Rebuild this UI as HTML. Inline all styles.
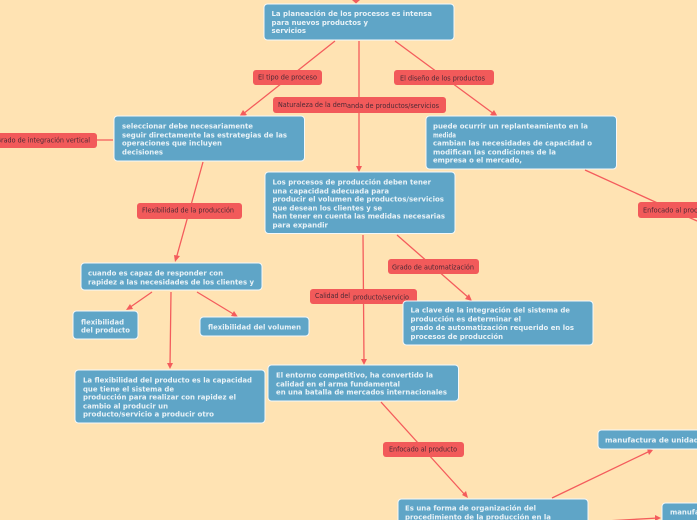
<!DOCTYPE html>
<html><head><meta charset="utf-8"><style>
html,body{margin:0;padding:0;width:697px;height:520px;overflow:hidden;background:#ffe3b3}
svg{display:block}
.n{fill:#5fa5c7;stroke:#f4f8fa;stroke-width:1}
.l{fill:#f25a5a}
.c{stroke:#f45c5c;stroke-width:1.3;fill:none}
.a{fill:#f45c5c}
.t{font:bold 7.2px "DejaVu Sans",sans-serif;fill:#e8f2f7;filter:blur(.25px)}
.s{font:7px "DejaVu Sans",sans-serif;fill:#4d2a35;filter:blur(.2px)}
</style></head><body>
<svg width="697" height="520" viewBox="0 0 697 520" xmlns="http://www.w3.org/2000/svg">
<rect width="697" height="520" fill="#ffe3b3"/>
<!-- connectors -->
<path class="c" d="M335 41L243 114M359 41V169M395 41L494 114M113 140H97M203 162L176 259M585 170L697 221M363 235L364 362M397 235L469 298M152 292L129 308M171 292L170 366M197 292L235 315M381 402L466 496M552 498L650 451M588 522L658 518"/>
<polygon class="a" points="352,0 360,0 356,3.500"/>
<polygon class="a" points="239,117 243,110 247,115"/>
<polygon class="a" points="359,172 356,166 362,166"/>
<polygon class="a" points="498,117 490,115 494,110"/>
<polygon class="a" points="175,262 174,255 180,256"/>
<polygon class="a" points="364,365 361,359 367,359"/>
<polygon class="a" points="472,301 465,299 469,294"/>
<polygon class="a" points="126,310 130,304 133,309"/>
<polygon class="a" points="170,369 167,363 173,363"/>
<polygon class="a" points="238,317 231,316 234,311"/>
<polygon class="a" points="468,498 462,495 466,491"/>
<polygon class="a" points="653,450 649,455 647,449"/>
<polygon class="a" points="661,518 655,521 655,515"/>
<!-- labels -->
<rect class="l" x="253" y="70" width="69" height="15" rx="3"/>
<rect class="l" x="394" y="70" width="100" height="15" rx="3"/>
<rect class="l" x="273" y="97" width="173" height="16" rx="3"/>
<rect class="l" x="-6" y="133" width="103" height="15" rx="3"/>
<rect class="l" x="137" y="203" width="105" height="16" rx="3"/>
<rect class="l" x="638" y="202" width="80" height="16" rx="3"/>
<rect class="l" x="388" y="259" width="91" height="15" rx="3"/>
<rect class="l" x="310" y="289" width="107" height="15" rx="3"/>
<rect class="l" x="383" y="442" width="81" height="15" rx="3"/>
<g class="s">
<text x="258" y="79.500" textLength="59" lengthAdjust="spacingAndGlyphs">El tipo de proceso</text>
<text x="400" y="80.500" textLength="85" lengthAdjust="spacingAndGlyphs">El diseño de los productos</text>
<text x="278" y="107" textLength="69" lengthAdjust="spacingAndGlyphs">Naturaleza de la dem</text>
<text x="347" y="108" textLength="92" lengthAdjust="spacingAndGlyphs">anda de productos/servicios</text>
<text x="-4" y="142.500" textLength="94" lengthAdjust="spacingAndGlyphs">Grado de integración vertical</text>
<text x="142" y="212.500" textLength="92" lengthAdjust="spacingAndGlyphs">Flexibilidad de la producción</text>
<text x="643" y="212.500" textLength="66" lengthAdjust="spacingAndGlyphs">Enfocado al proceso</text>
<text x="392" y="269.500" textLength="82" lengthAdjust="spacingAndGlyphs">Grado de automatización</text>
<text x="315" y="298" textLength="35" lengthAdjust="spacingAndGlyphs">Calidad del</text>
<text x="353" y="299.500" textLength="56" lengthAdjust="spacingAndGlyphs">producto/servicio</text>
<text x="389" y="451.500" textLength="68" lengthAdjust="spacingAndGlyphs">Enfocado al producto</text>
</g>
<!-- nodes -->
<rect class="n" x="264" y="4" width="190" height="36" rx="3.500"/>
<rect class="n" x="114" y="116" width="190.500" height="45" rx="3.500"/>
<rect class="n" x="426" y="116" width="190.500" height="53" rx="3.500"/>
<rect class="n" x="265" y="172" width="190" height="61.500" rx="3.500"/>
<rect class="n" x="403" y="301" width="190" height="44" rx="3.500"/>
<rect class="n" x="81" y="263" width="181" height="27" rx="3.500"/>
<rect class="n" x="73" y="311" width="65" height="28" rx="3.500"/>
<rect class="n" x="200" y="317" width="109" height="19" rx="3.500"/>
<rect class="n" x="75" y="370" width="190" height="53" rx="3.500"/>
<rect class="n" x="268" y="365" width="190.500" height="36" rx="3.500"/>
<rect class="n" x="398" y="499" width="190" height="40" rx="3.500"/>
<rect class="n" x="598" y="430" width="130" height="19" rx="3.500"/>
<rect class="n" x="662" y="503" width="80" height="40" rx="3.500"/>
<g class="t">
<text x="271.500" y="16" textLength="160.500" lengthAdjust="spacingAndGlyphs">La planeación de los procesos es intensa</text>
<text x="271.500" y="25" textLength="96.500" lengthAdjust="spacingAndGlyphs">para nuevos productos y</text>
<text x="271.500" y="33" textLength="34.500" lengthAdjust="spacingAndGlyphs">servicios</text>

<text x="122" y="128.500" textLength="131" lengthAdjust="spacingAndGlyphs">seleccionar debe necesariamente</text>
<text x="122" y="137.500" textLength="165" lengthAdjust="spacingAndGlyphs">seguir directamente las estrategias de las</text>
<text x="122" y="145.500" textLength="100" lengthAdjust="spacingAndGlyphs">operaciones que incluyen</text>
<text x="122" y="154.500" textLength="41" lengthAdjust="spacingAndGlyphs">decisiones</text>

<text x="433" y="128.500" textLength="155" lengthAdjust="spacingAndGlyphs">puede ocurrir un replanteamiento en la</text>
<text x="433" y="137.500" textLength="23" lengthAdjust="spacingAndGlyphs">medida</text>
<text x="433" y="145.500" textLength="159" lengthAdjust="spacingAndGlyphs">cambian las necesidades de capacidad o</text>
<text x="433" y="154.500" textLength="123" lengthAdjust="spacingAndGlyphs">modifican las condiciones de la</text>
<text x="433" y="162.500" textLength="89" lengthAdjust="spacingAndGlyphs">empresa o el mercado,</text>

<text x="272.500" y="184.500" textLength="158.500" lengthAdjust="spacingAndGlyphs">Los procesos de producción deben tener</text>
<text x="272.500" y="193.500" textLength="116.500" lengthAdjust="spacingAndGlyphs">una capacidad adecuada para</text>
<text x="272.500" y="201.500" textLength="171.500" lengthAdjust="spacingAndGlyphs">producir el volumen de productos/servicios</text>
<text x="272.500" y="210.500" textLength="109.500" lengthAdjust="spacingAndGlyphs">que desean los clientes y se</text>
<text x="272.500" y="218.500" textLength="172.500" lengthAdjust="spacingAndGlyphs">han tener en cuenta las medidas necesarias</text>
<text x="272.500" y="227.500" textLength="55.500" lengthAdjust="spacingAndGlyphs">para expandir</text>

<text x="410.500" y="312.500" textLength="159.500" lengthAdjust="spacingAndGlyphs">La clave de la integración del sistema de</text>
<text x="410.500" y="321.500" textLength="110.500" lengthAdjust="spacingAndGlyphs">producción es determinar el</text>
<text x="410.500" y="330" textLength="163.500" lengthAdjust="spacingAndGlyphs">grado de automatización requerido en los</text>
<text x="410.500" y="339" textLength="92.500" lengthAdjust="spacingAndGlyphs">procesos de producción</text>

<text x="88" y="275.500" textLength="135" lengthAdjust="spacingAndGlyphs">cuando es capaz de responder con</text>
<text x="88" y="284.500" textLength="166" lengthAdjust="spacingAndGlyphs">rapidez a las necesidades de los clientes y</text>

<text x="81" y="324.500" textLength="43" lengthAdjust="spacingAndGlyphs">flexibilidad</text>
<text x="81" y="332.500" textLength="49" lengthAdjust="spacingAndGlyphs">del producto</text>

<text x="208" y="329.500" textLength="93" lengthAdjust="spacingAndGlyphs">flexibilidad del volumen</text>

<text x="83" y="382.500" textLength="169" lengthAdjust="spacingAndGlyphs">La flexibilidad del producto es la capacidad</text>
<text x="83" y="391.500" textLength="91" lengthAdjust="spacingAndGlyphs">que tiene el sistema de</text>
<text x="83" y="399.500" textLength="153" lengthAdjust="spacingAndGlyphs">producción para realizar con rapidez el</text>
<text x="83" y="408.500" textLength="85" lengthAdjust="spacingAndGlyphs">cambio al producir un</text>
<text x="83" y="416.500" textLength="131" lengthAdjust="spacingAndGlyphs">producto/servicio a producir otro</text>

<text x="276" y="377.500" textLength="157" lengthAdjust="spacingAndGlyphs">El entorno competitivo, ha convertido la</text>
<text x="276" y="386.500" textLength="124" lengthAdjust="spacingAndGlyphs">calidad en el arma fundamental</text>
<text x="276" y="394.500" textLength="171" lengthAdjust="spacingAndGlyphs">en una batalla de mercados internacionales</text>

<text x="405" y="510.500" textLength="131" lengthAdjust="spacingAndGlyphs">Es una forma de organización del</text>
<text x="405" y="519.500" textLength="146" lengthAdjust="spacingAndGlyphs">procedimiento de la producción en la</text>

<text x="605" y="442.500" textLength="103" lengthAdjust="spacingAndGlyphs">manufactura de unidades</text>
<text x="670" y="514.500" textLength="50" lengthAdjust="spacingAndGlyphs">manufactura</text>
</g>
</svg>
</body></html>
